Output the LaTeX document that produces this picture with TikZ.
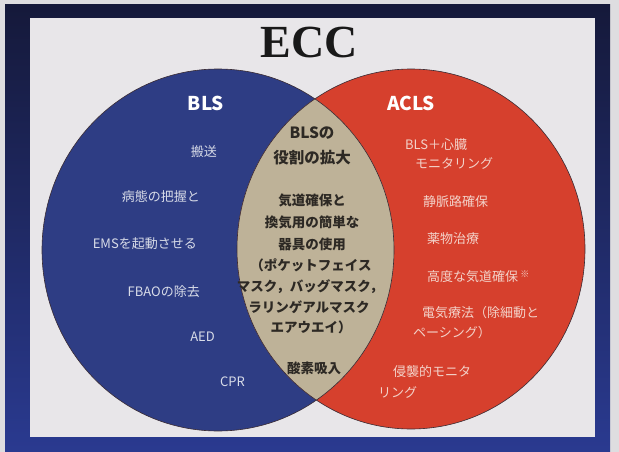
\documentclass[tikz,border=0pt]{standalone}
\usepackage{fontspec}
\setmainfont{Noto Sans CJK JP}
\newfontfamily\titlefont{Liberation Serif}
\definecolor{bgout}{HTML}{DEDDE0}
\definecolor{panel}{HTML}{E8E6E9}
\definecolor{navyT}{HTML}{15193A}
\definecolor{navyB}{HTML}{2A3A90}
\definecolor{blsblue}{HTML}{2E3D84}
\definecolor{aclsred}{HTML}{D6402D}
\definecolor{lensbeige}{HTML}{BEB298}
\definecolor{bluetext}{HTML}{D8DCE8}
\definecolor{redtext}{HTML}{F3D2C9}
\definecolor{lenstext}{HTML}{2D2924}
\definecolor{edge}{HTML}{3A2C34}
\tikzset{
  bluetxt/.style={text=bluetext,font=\fontsize{13}{15}\selectfont,inner sep=0pt,anchor=east},
  redtxt/.style={text=redtext,font=\fontsize{13}{15}\selectfont,inner sep=0pt,anchor=west},
  lenstxt/.style={text=lenstext,font=\fontsize{13.5}{15}\selectfont\bfseries,inner sep=0pt},
  headtxt/.style={text=white,font=\fontsize{19}{22}\selectfont\bfseries,inner sep=0pt},
}
\begin{document}
\begin{tikzpicture}[x=1pt,y=-1pt]
\useasboundingbox (0,0) rectangle (619,452);
\fill[bgout] (0,0) rectangle (619,452);
\shade[top color=navyT,bottom color=navyB] (5,5) rectangle (610,452);
\fill[panel] (30,18) rectangle (595,437);
% circles
\fill[blsblue] (218,250) circle [x radius=176, y radius=181];
\fill[aclsred] (411,249) circle [x radius=174, y radius=180];
\begin{scope}
  \clip (218,250) circle [x radius=176, y radius=181];
  \fill[lensbeige] (411,249) circle [x radius=174, y radius=180];
\end{scope}
\draw[edge,line width=0.6pt] (218,250) circle [x radius=176, y radius=181];
\draw[edge,line width=0.6pt] (411,249) circle [x radius=174, y radius=180];
% title
\node[inner sep=0pt,font=\titlefont\fontsize{46}{50}\selectfont\bfseries,text=black!90] (ecc) at (309,42) {ECC};
\node[headtxt] (bls) at (206,103) {BLS};
\node[headtxt] (acls) at (411,103) {ACLS};
% lens
\node[lenstxt,font=\fontsize{15.5}{18}\selectfont\bfseries] (l1) at (312,133) {BLSの};
\node[lenstxt,font=\fontsize{15.5}{18}\selectfont\bfseries] (l2) at (312,158) {役割の拡大};
\node[lenstxt] (l3) at (312,200) {気道確保と};
\node[lenstxt] (l4) at (312,222) {換気用の簡単な};
\node[lenstxt] (l5) at (312,244) {器具の使用};
\node[lenstxt] (l6) at (311,265) {（ポケットフェイス};
\node[lenstxt] (l7) at (310,287) {マスク，バッグマスク，};
\node[lenstxt] (l8) at (309,307) {ラリンゲアルマスク};
\node[lenstxt] (l9) at (311,327) {エアウエイ）};
\node[lenstxt] (l10) at (314,368) {酸素吸入};
% BLS side
\node[bluetxt] (b1) at (217,152) {搬送};
\node[bluetxt] (b2) at (200,197) {病態の把握と};
\node[bluetxt] (b3) at (197,244) {EMSを起動させる};
\node[bluetxt] (b4) at (200,292) {FBAOの除去};
\node[bluetxt] (b5) at (215,337) {AED};
\node[bluetxt] (b6) at (245,382) {CPR};
% ACLS side
\node[redtxt] (r1) at (405,145) {BLS＋心臓};
\node[redtxt] (r2) at (415,163) {モニタリング};
\node[redtxt] (r3) at (423,202) {静脈路確保};
\node[redtxt] (r4) at (427,239) {薬物治療};
\node[redtxt] (r5) at (427,277) {高度な気道確保\,\raisebox{4pt}{\fontsize{9}{10}\selectfont ※}};
\node[redtxt] (r6) at (422,313) {電気療法（除細動と};
\node[redtxt] (r7) at (413,333) {ペーシング）};
\node[redtxt] (r8) at (393,372) {侵襲的モニタ};
\node[redtxt] (r9) at (378,392) {リング};
\end{tikzpicture}
\end{document}
